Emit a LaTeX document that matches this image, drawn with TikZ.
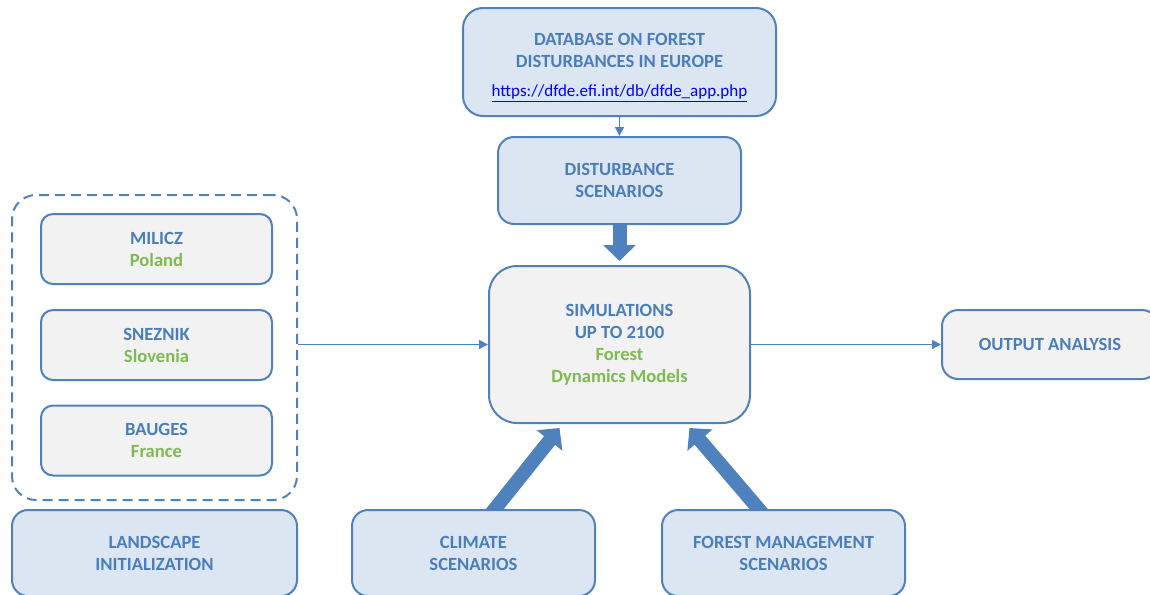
\documentclass[tikz,border=0pt]{standalone}
\usepackage{fontspec}
\setmainfont{Carlito}
\usetikzlibrary{arrows.meta,backgrounds}
\definecolor{edgeblue}{HTML}{4F81BD}
\definecolor{textblue}{HTML}{4A7EBB}
\definecolor{fillblue}{HTML}{DCE6F2}
\definecolor{fillgray}{HTML}{F2F2F2}
\definecolor{leafgreen}{HTML}{7DBB52}
\definecolor{urlblue}{HTML}{0000FF}
\tikzset{
  box/.style={draw=edgeblue, line width=1pt, rounded corners=6pt, align=center,
    text=textblue, inner sep=0pt, font=\fontsize{9.3pt}{11pt}\selectfont\bfseries},
  bluebox/.style={box, fill=fillblue},
  greybox/.style={box, fill=fillgray},
  thin arrow/.style={draw=edgeblue, line width=0.75pt, -{Triangle[width=4.5pt,length=4.5pt]}},
  fat arrow/.style={draw=edgeblue, line width=7pt, -{Triangle[width=16pt,length=8pt]}},
}
\newcommand{\country}[1]{{\color{leafgreen}#1}}
\begin{document}
\begin{tikzpicture}[x=0.5pt, y=-0.5pt]
  \useasboundingbox (0,0) rectangle (1150,594);
  \clip (0,0) rectangle (1150,594);
  % sources
  \node[bluebox, rounded corners=10pt, minimum width=156.5pt, minimum height=54pt] (db) at (619.5,62)
    {\rule{0pt}{12pt}DATABASE ON FOREST\\DISTURBANCES IN EUROPE\\[3.5pt]{\mdseries\fontsize{8.5pt}{11pt}\selectfont\color{urlblue}\underline{https://dfde.efi.int/db/dfde\_app.php}}};
  \node[bluebox, rounded corners=8pt, minimum width=121.5pt, minimum height=43.5pt] (dist) at (619.5,180.5)
    {DISTURBANCE\\SCENARIOS};
  \node[greybox, rounded corners=14pt, minimum width=130.5pt, minimum height=78.5pt] (sim) at (619.5,344.5)
    {SIMULATIONS\\UP TO 2100\\\country{Forest}\\\country{Dynamics Models}};
  % landscapes
  \node[draw=edgeblue, line width=1pt, dashed, dash pattern=on 5pt off 3pt, rounded corners=12pt,
    minimum width=142.5pt, minimum height=152.5pt] (zone) at (154.5,347.5) {};
  \node[greybox, minimum width=115.5pt, minimum height=35pt] (milicz) at (156.5,249) {MILICZ\\\country{Poland}};
  \node[greybox, minimum width=115.5pt, minimum height=35pt] (sneznik) at (156.5,345) {SNEZNIK\\\country{Slovenia}};
  \node[greybox, minimum width=115.5pt, minimum height=35pt] (bauges) at (156.5,440.5) {BAUGES\\\country{France}};
  \node[bluebox, rounded corners=8pt, minimum width=142.5pt, minimum height=43pt] (land) at (154.5,553)
    {LANDSCAPE\\INITIALIZATION};
  \node[bluebox, rounded corners=8pt, minimum width=121.5pt, minimum height=43pt] (climate) at (473.5,553)
    {CLIMATE\\SCENARIOS};
  \node[bluebox, rounded corners=8pt, minimum width=121.5pt, minimum height=43pt] (manage) at (783.5,553)
    {FOREST MANAGEMENT\\SCENARIOS};
  \node[greybox, rounded corners=8pt, minimum width=108pt, minimum height=34.5pt] (out) at (1050,344.5)
    {OUTPUT ANALYSIS};
  % connectors
  \draw[thin arrow] (db) -- (dist);
  \draw[thin arrow] (zone.east |- sim) -- (sim);
  \draw[thin arrow] (sim) -- (out);
  \draw[fat arrow, shorten >=2pt] (dist) -- (sim);
  \begin{scope}[on background layer]
    \draw[fat arrow] ([xshift=7.5pt, yshift=-4pt]climate.north) -- ([xshift=-30pt, yshift=-2pt]sim.south);
    \draw[fat arrow] ([xshift=-9pt, yshift=-4pt]manage.north) -- ([xshift=35pt, yshift=-2pt]sim.south);
  \end{scope}
\end{tikzpicture}
\end{document}
